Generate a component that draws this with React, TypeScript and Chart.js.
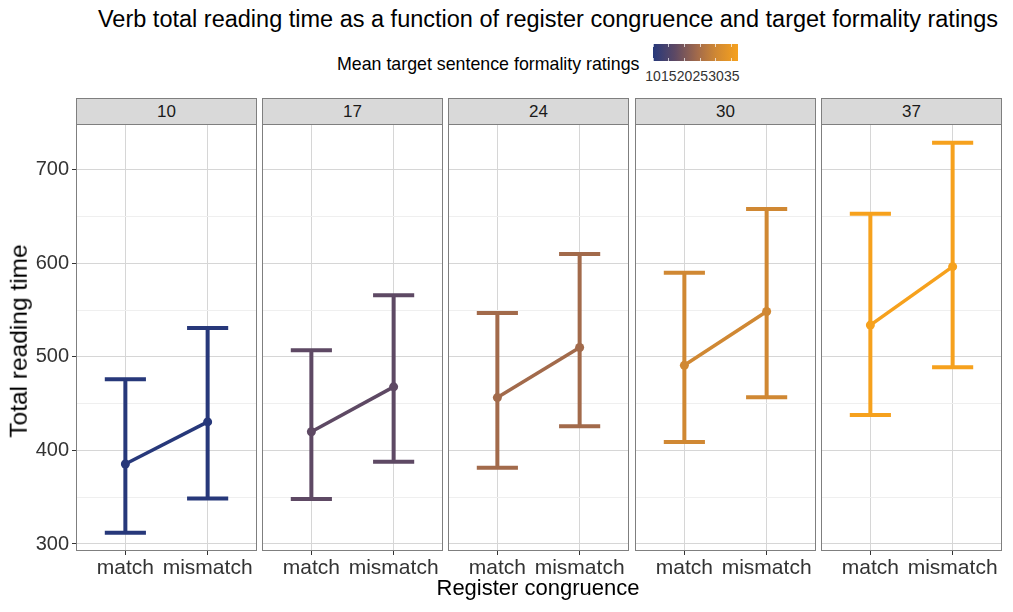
import { useEffect, useRef } from 'react'
import { Chart, registerables } from 'chart.js'
import type { ChartConfiguration, Plugin, Scale } from 'chart.js'

Chart.register(...registerables)

// facet values (mean target sentence formality rating)
const ratings = [10, 17, 24, 30, 37]
const congruence = ['match', 'mismatch']

const matchMean = [385.5, 420, 456.5, 491, 534]
const matchLower = [312, 348, 381.5, 409, 438]
const matchUpper = [476, 507, 547, 590, 653]

const mismatchMean = [430.5, 468, 510, 548.5, 596.5]
const mismatchLower = [348.5, 388, 426, 457, 489]
const mismatchUpper = [531, 566, 610, 658, 729]

const panelColors = ['#27387a', '#5e4964', '#a26a4b', '#d08833', '#f6a11d']
const yTicks = [300, 350, 400, 450, 500, 550, 600, 650, 700]
const colorbarTicks = [10, 15, 20, 25, 30, 35]
const colorbarRange = [10, 37]

const FONT = '"Liberation Sans", Arial, Helvetica, sans-serif'
const Y_MIN = 292.5
const Y_MAX = 749
const PANEL_LEFT = [76, 262, 448, 635, 821]
const PANEL_W = 181
const TOP = 124
const AREA_H = 427
const X_AXIS_H = 40
const CAP = 0.25

const panelBorder: Plugin = {
  id: 'panelBorder',
  afterDraw(chart) {
    const { ctx, chartArea } = chart
    ctx.save()
    ctx.strokeStyle = '#7f7f7f'
    ctx.lineWidth = 1
    ctx.strokeRect(chartArea.left + 0.5, chartArea.top + 0.5, chartArea.width - 1, chartArea.height - 1)
    ctx.restore()
  },
}

function Panel({ i }: { i: number }) {
  const canvasRef = useRef<HTMLCanvasElement>(null)
  const first = i === 0

  useEffect(() => {
    const ctx = canvasRef.current?.getContext('2d')
    if (!ctx) return

    const color = panelColors[i]
    const means = [matchMean[i], mismatchMean[i]]
    const lows = [matchLower[i], mismatchLower[i]]
    const highs = [matchUpper[i], mismatchUpper[i]]

    // error bars: stem + two caps per category, broken with nulls
    const bars: { x: number; y: number | null }[] = []
    congruence.forEach((_, j) => {
      const x = j + 1
      bars.push({ x, y: lows[j] }, { x, y: highs[j] }, { x, y: null })
      bars.push({ x: x - CAP, y: lows[j] }, { x: x + CAP, y: lows[j] }, { x, y: null })
      bars.push({ x: x - CAP, y: highs[j] }, { x: x + CAP, y: highs[j] }, { x, y: null })
    })

    const fixPadding = (scale: Scale) => {
      scale.paddingTop = 0
      scale.paddingBottom = 0
      scale.paddingLeft = 0
      scale.paddingRight = 0
    }

    const config: ChartConfiguration<'line'> = {
      type: 'line',
      data: {
        datasets: [
          {
            data: congruence.map((_, j) => ({ x: j + 1, y: means[j] })),
            borderColor: color,
            backgroundColor: color,
            borderWidth: 3.5,
            pointRadius: 4.5,
            pointBorderWidth: 0,
            pointBackgroundColor: color,
            tension: 0,
          },
          {
            data: bars as any,
            borderColor: color,
            borderWidth: 4,
            borderCapStyle: 'butt',
            pointRadius: 0,
            spanGaps: false,
            tension: 0,
          },
        ],
      },
      options: {
        responsive: true,
        maintainAspectRatio: false,
        animation: false,
        layout: { padding: 0, autoPadding: false },
        plugins: {
          legend: { display: false },
          tooltip: { enabled: false },
          title: { display: false },
        },
        scales: {
          x: {
            type: 'linear',
            min: 0.4,
            max: 2.6,
            afterBuildTicks: (scale) => {
              scale.ticks = congruence.map((_, j) => ({ value: j + 1 }))
            },
            afterFit: (scale) => {
              scale.height = X_AXIS_H
              fixPadding(scale)
            },
            border: { display: false },
            grid: {
              color: '#d6d6d6',
              lineWidth: 1,
              tickLength: 4,
              tickColor: '#333333',
            },
            ticks: {
              autoSkip: false,
              maxRotation: 0,
              padding: 1,
              color: '#333333',
              font: { family: FONT, size: 21 },
              callback: (v) => congruence[Number(v) - 1] ?? '',
            },
          },
          y: {
            type: 'linear',
            min: Y_MIN,
            max: Y_MAX,
            afterBuildTicks: (scale) => {
              scale.ticks = yTicks.map((v) => ({ value: v }))
            },
            afterFit: (scale) => {
              scale.width = first ? PANEL_LEFT[0] : 0
              fixPadding(scale)
            },
            border: { display: false },
            grid: {
              color: (c) => (c.tick && c.tick.value % 100 === 0 ? '#d6d6d6' : '#efefef'),
              lineWidth: 1,
              drawTicks: first,
              tickLength: 4,
              tickColor: (c) => (c.tick && c.tick.value % 100 === 0 ? '#333333' : 'rgba(0,0,0,0)'),
            },
            ticks: {
              display: first,
              autoSkip: false,
              padding: 3,
              color: '#333333',
              font: { family: FONT, size: 20 },
              callback: (v) => (Number(v) % 100 === 0 ? String(v) : ''),
            },
          },
        },
      },
      plugins: [panelBorder],
    }

    const chart = new Chart(ctx, config)
    return () => chart.destroy()
  }, [i, first])

  const left = first ? 0 : PANEL_LEFT[i]
  const width = first ? PANEL_LEFT[0] + PANEL_W : PANEL_W

  return (
    <>
      <div
        style={{
          position: 'absolute',
          left: PANEL_LEFT[i],
          top: 98,
          width: PANEL_W,
          height: 27,
          boxSizing: 'border-box',
          background: '#d9d9d9',
          border: '1px solid #7f7f7f',
          font: `17px ${FONT}`,
          color: '#1a1a1a',
          display: 'flex',
          alignItems: 'center',
          justifyContent: 'center',
        }}
      >
        {ratings[i]}
      </div>
      <div style={{ position: 'absolute', left, top: TOP, width, height: AREA_H + X_AXIS_H }}>
        <canvas ref={canvasRef} />
      </div>
    </>
  )
}

export default function App() {
  const [cbMin, cbMax] = colorbarRange
  const cbLeft = 653
  const cbWidth = 85
  const cbPos = (v: number) => ((v - cbMin) / (cbMax - cbMin)) * cbWidth

  return (
    <div
      style={{
        position: 'absolute',
        left: 0,
        top: 0,
        width: 1013,
        height: 612,
        background: '#ffffff',
        fontFamily: FONT,
        overflow: 'hidden',
      }}
    >
      {/* title */}
      <div
        style={{
          position: 'absolute',
          left: 548,
          top: 7.5,
          transform: 'translateX(-50%)',
          whiteSpace: 'nowrap',
          fontSize: 23.5,
          lineHeight: 1,
          color: '#000',
        }}
      >
        Verb total reading time as a function of register congruence and target formality ratings
      </div>

      {/* colour legend */}
      <div
        style={{
          position: 'absolute',
          left: 337,
          top: 56,
          whiteSpace: 'nowrap',
          fontSize: 17.8,
          lineHeight: 1,
          color: '#000',
        }}
      >
        Mean target sentence formality ratings
      </div>
      <div
        style={{
          position: 'absolute',
          left: cbLeft,
          top: 44,
          width: cbWidth,
          height: 17,
          background: `linear-gradient(to right, ${panelColors[0]}, #5e4964 26%, #a26a4b 52%, #d08833 74%, ${panelColors[4]})`,
        }}
      >
        {colorbarTicks.map((t) => (
          <div key={t}>
            <div style={{ position: 'absolute', left: cbPos(t) - 0.5, top: 0, width: 1, height: 3, background: 'rgba(255,255,255,0.7)' }} />
            <div style={{ position: 'absolute', left: cbPos(t) - 0.5, bottom: 0, width: 1, height: 3, background: 'rgba(255,255,255,0.7)' }} />
          </div>
        ))}
      </div>
      {colorbarTicks.map((t) => (
        <div
          key={t}
          style={{
            position: 'absolute',
            left: cbLeft + cbPos(t),
            top: 69,
            transform: 'translateX(-50%)',
            fontSize: 14,
            lineHeight: 1,
            color: '#333333',
          }}
        >
          {t}
        </div>
      ))}

      {/* panels */}
      {ratings.map((_, i) => (
        <Panel key={i} i={i} />
      ))}

      {/* axis titles */}
      <div
        style={{
          position: 'absolute',
          left: 18.5,
          top: 341,
          transform: 'translate(-50%, -50%) rotate(-90deg)',
          whiteSpace: 'nowrap',
          fontSize: 24.5,
          lineHeight: 1,
          color: '#000',
        }}
      >
        Total reading time
      </div>
      <div
        style={{
          position: 'absolute',
          left: 538,
          top: 577,
          transform: 'translateX(-50%)',
          whiteSpace: 'nowrap',
          fontSize: 22,
          lineHeight: 1,
          color: '#000',
        }}
      >
        Register congruence
      </div>
    </div>
  )
}
